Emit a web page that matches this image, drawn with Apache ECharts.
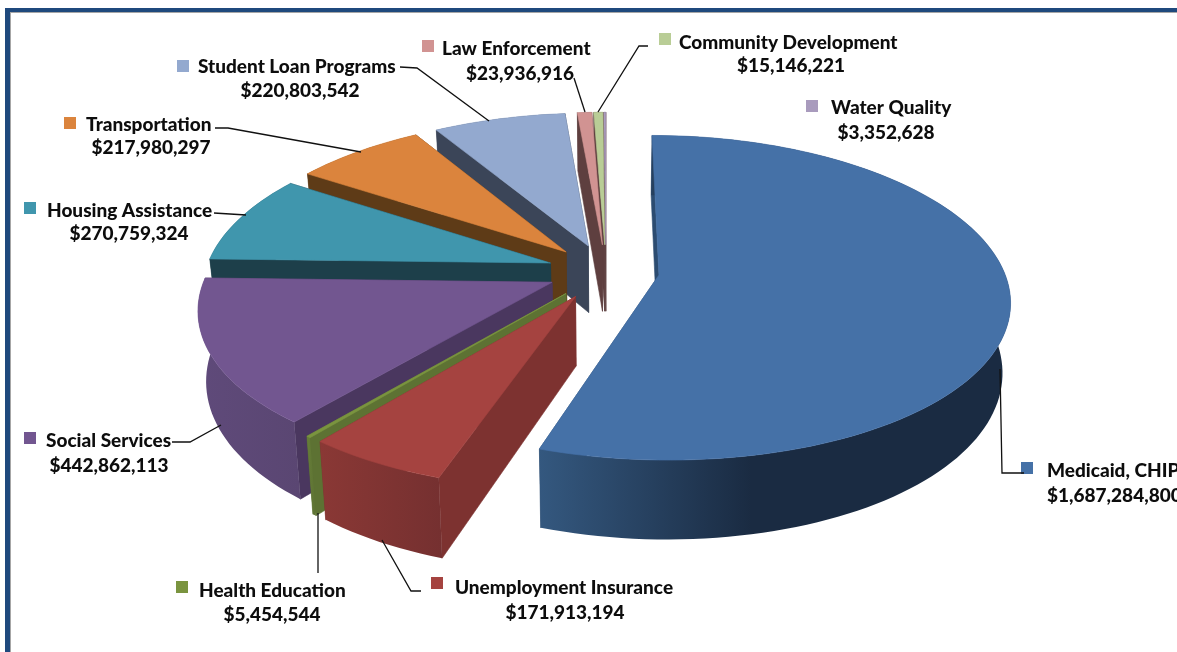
<!DOCTYPE html>
<html><head><meta charset="utf-8">
<style>html,body{margin:0;padding:0;background:#fff;overflow:hidden}#c{width:1177px;height:652px}</style>
<script src="https://cdn.jsdelivr.net/npm/echarts@6/dist/echarts.min.js"></script>
</head><body><div id="c"></div>
<script>
const categories = ['Medicaid, CHIP','Unemployment Insurance','Health Education','Social Services','Housing Assistance','Transportation','Student Loan Programs','Law Enforcement','Community Development','Water Quality'];
const amounts = [1687284800,171913194,5454544,442862113,270759324,217980297,220803542,23936916,15146221,3352628];
const topColors = ['#4571a7','#a54340','#7a943f','#725690','#4096ad','#db843d','#93a9cf','#d19392','#b9cd96','#a99bbd'];
const sideColors = ['#2c4c71','#7d3230','#5d7233','#4a375f','#1d3f4a','#5e3b17','#3b4558','#5e3f3f','#5e3f3f','#5e3f3f'];
const wallFrom = ['#34587f','#8a3835','#667d38','#5f4a7a','#1d3f4a','#5e3b17','#3b4558','#5e3f3f','#5e3f3f','#5e3f3f'];
const wallTo = ['#1a2b42','#753030','#5d7233','#5a4672','#1d3f4a','#5e3b17','#3b4558','#5e3f3f','#5e3f3f','#5e3f3f'];
const explodeBy = [0.155,0.18,0.18,0.17,0.17,0.17,0.17,0.17,0.17,0.17];

// label layout: key square x,y; name x,y; value centre x (or left), y; leader polyline
const labelLayout = [
 {k:[1021,462],nx:1047,ny:471,vx:1047,vy:496,va:'left',line:[[1024,473],[1002,473],[1000,369]]},
 {k:[431,577],nx:455,ny:588,vx:565,vy:613,line:[[421,591],[411,591],[382,540]]},
 {k:[176,581],nx:199,ny:591,vx:272,vy:615,line:[[318,573],[318,513]]},
 {k:[24,432],nx:46,ny:441,vx:109,vy:466,line:[[172,442],[190,442],[221,425]]},
 {k:[24,202],nx:47,ny:211,vx:129,vy:234,line:[[214,213],[246,215]]},
 {k:[64,117],nx:86,ny:125,vx:151,vy:148,line:[[215,128],[228,128],[361,152]]},
 {k:[177,60],nx:198,ny:67,vx:300,vy:91,line:[[400,67],[417,68],[489,121]]},
 {k:[422,40],nx:442,ny:49,vx:520,vy:74,line:[[574,78],[585,112]]},
 {k:[659,33],nx:679,ny:43,vx:791,vy:66,line:[[648,46],[639,46],[598,112]]},
 {k:[806,100],nx:831,ny:108,vx:886,vy:133,line:null}
];

const total = amounts.reduce((a,b)=>a+b,0);
const CX=606, CY=271, FX=345, FY=158, KX=0.15, KY=0.14, DEPTH=68;
function project(X,Y,low){
  const wx=1/(1+KX*Y), wy=1/(1+KY*Y);
  return [CX+FX*X*wx*(low?0.98:1), CY-FY*Y*wy+(low?DEPTH*wy:0)];
}
function slicePolys(i,startVal,val,e){
  const a0=startVal/total*2*Math.PI, a1=(startVal+val)/total*2*Math.PI, m=(a0+a1)/2;
  const ox=e*Math.sin(m), oy=e*Math.cos(m);
  const n=Math.max(2,Math.ceil((a1-a0)/0.03));
  const top=[],bot=[];
  for(let j=0;j<=n;j++){
    const t=a0+(a1-a0)*j/n, X=ox+Math.sin(t), Y=oy+Math.cos(t);
    top.push(project(X,Y,false)); bot.push(project(X,Y,true));
  }
  const at=project(ox,oy,false), ab=project(ox,oy,true);
  return {top,bot,at,ab};
}
function renderItem(params,api){
  const i=params.dataIndex, v=api.value(0);
  let start=0; for(let j=0;j<i;j++) start+=amounts[j];
  const p=slicePolys(i,start,v,explodeBy[i]);
  const last=p.top.length-1;
  const poly=(pts,fill,sw)=>({type:'polygon',z2:0,shape:{points:pts},style:{fill:fill,stroke:typeof fill==='string'?fill:wallFrom[i],lineWidth:sw===undefined?0.6:sw}});
  const grad=new echarts.graphic.LinearGradient(0,0,1,0,[{offset:0,color:wallFrom[i]},{offset:i===0?0.45:1,color:wallTo[i]},{offset:1,color:wallTo[i]}]);
  return {type:'group',children:[
    poly([p.at,p.top[last],p.bot[last],p.ab],sideColors[i]),
    poly([p.at,p.top[0],p.bot[0],p.ab],sideColors[i]),
    poly(p.top.concat(p.bot.slice().reverse()),grad,0),
    poly([p.at].concat(p.top),topColors[i])
  ]};
}
// far slices first, so that near ones cover them
const order = amounts.map((_,i)=>i).reverse();
const series = order.map(i=>({
  type:'custom',coordinateSystem:'none',animation:false,silent:true,z:2+(amounts.length-i),
  renderItem:(params,api)=>renderItem({dataIndex:i},api),
  data:[[amounts[i]]]
}));
const money=v=>'$'+v.toLocaleString('en-US');
const FONT='Lato';const FS=19;
const gfx=[
 {type:'rect',shape:{x:5,y:8,width:1172,height:644},style:{fill:'#1f497d'},z:1},
 {type:'rect',shape:{x:10,y:12,width:1167,height:640},style:{fill:'#a6a6a6'},z:1},
 {type:'rect',shape:{x:11,y:13,width:1166,height:639},style:{fill:'#ffffff'},z:1}
];
labelLayout.forEach((l,i)=>{
  gfx.push({type:'rect',z:30,shape:{x:l.k[0],y:l.k[1],width:12,height:12},style:{fill:topColors[i]}});
  gfx.push({type:'text',z:30,x:l.nx,y:l.ny,style:{text:categories[i],font:'900 '+FS+'px '+FONT,fill:'#0d0d0d',textAlign:'left',textVerticalAlign:'middle'}});
  gfx.push({type:'text',z:30,x:l.vx,y:l.vy,style:{text:money(amounts[i]),font:'900 '+FS+'px '+FONT,fill:'#0d0d0d',textAlign:l.va||'center',textVerticalAlign:'middle'}});
  if(l.line) gfx.push({type:'polyline',z:30,shape:{points:l.line},style:{stroke:'#111',lineWidth:1.3,fill:null}});
});
const chart=echarts.init(document.getElementById('c'),null,{renderer:'canvas'});
chart.setOption({animation:false,backgroundColor:'#fff',graphic:{elements:gfx},series:series});
</script></body></html>
